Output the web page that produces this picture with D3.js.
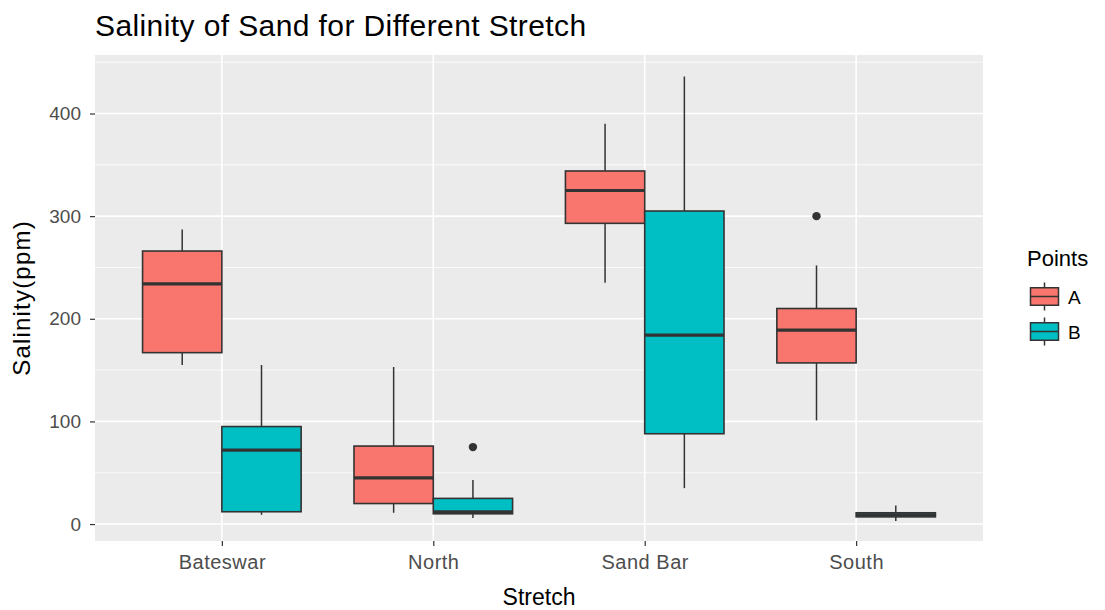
<!DOCTYPE html>
<html>
<head>
<meta charset="utf-8">
<script src="https://cdn.jsdelivr.net/npm/d3@7"></script>
<style>
  html, body { margin: 0; padding: 0; background: #ffffff; }
  svg text { font-family: "Liberation Sans", Arial, sans-serif; }
</style>
</head>
<body>
<svg id="chart" width="1105" height="610"></svg>
<script>
// Salinity summary statistics per stretch and sampling point
const categories = ["Bateswar", "North", "Sand Bar", "South"];
const groups = ["A", "B"];
const groupColors = ["#F8766D", "#00BFC4"];

// Five-number summaries (lower whisker, Q1, median, Q3, upper whisker), in ppm
const lowerA  = [155, 11, 235, 101];
const q1A     = [167, 20, 293, 157];
const medianA = [234, 45, 325, 189];
const q3A     = [266, 76, 344, 210];
const upperA  = [287, 153, 390, 252];

const lowerB  = [9, 6, 35, 3];
const q1B     = [12, 10, 88, 7];
const medianB = [72, 12, 184, 9];
const q3B     = [95, 25, 305, 11];
const upperB  = [155, 43, 436, 18];

// Outlying observations
const outliersA = [{ cat: "South", value: 300 }];
const outliersB = [{ cat: "North", value: 75 }];

const yTicks = [0, 100, 200, 300, 400];
const yMinor = [50, 150, 250, 350, 450];
const yDomain = [-16.5, 457];

const titleText = "Salinity of Sand for Different Stretch";
const xTitle = "Stretch";
const yTitle = "Salinity(ppm)";
const legendTitle = "Points";

// Build per-box records
const series = [
  { group: "A", lower: lowerA, q1: q1A, median: medianA, q3: q3A, upper: upperA, outliers: outliersA },
  { group: "B", lower: lowerB, q1: q1B, median: medianB, q3: q3B, upper: upperB, outliers: outliersB }
];
const boxes = [];
series.forEach(s => categories.forEach((c, i) => boxes.push({
  cat: c, group: s.group, lower: s.lower[i], q1: s.q1[i], median: s.median[i], q3: s.q3[i], upper: s.upper[i]
})));
const points = [];
series.forEach(s => s.outliers.forEach(o => points.push({ cat: o.cat, group: s.group, value: o.value })));

const panel = { left: 95, top: 55, right: 983, bottom: 541 };
const svg = d3.select("#chart");

// Discrete x positions with 0.6 unit expansion on each side
const unit = (panel.right - panel.left) / (categories.length - 1 + 1.2);
const x = d3.scalePoint().domain(categories)
  .range([panel.left + 0.6 * unit, panel.right - 0.6 * unit]);
const xGroup = d3.scaleBand().domain(groups).range([-0.375 * unit, 0.375 * unit]).padding(0);
const color = d3.scaleOrdinal().domain(groups).range(groupColors);

const y = d3.scaleLinear().domain(yDomain).range([panel.bottom, panel.top]);

// Panel background
svg.append("rect")
  .attr("x", panel.left).attr("y", panel.top)
  .attr("width", panel.right - panel.left).attr("height", panel.bottom - panel.top)
  .attr("fill", "#EBEBEB");

// Grid lines
const grid = svg.append("g");
grid.selectAll("line.minor").data(yMinor).join("line")
  .attr("x1", panel.left).attr("x2", panel.right)
  .attr("y1", d => y(d)).attr("y2", d => y(d))
  .attr("stroke", "#ffffff").attr("stroke-width", 0.8);
grid.selectAll("line.majory").data(yTicks).join("line")
  .attr("x1", panel.left).attr("x2", panel.right)
  .attr("y1", d => y(d)).attr("y2", d => y(d))
  .attr("stroke", "#ffffff").attr("stroke-width", 1.6);
grid.selectAll("line.majorx").data(categories).join("line")
  .attr("x1", d => x(d)).attr("x2", d => x(d))
  .attr("y1", panel.top).attr("y2", panel.bottom)
  .attr("stroke", "#ffffff").attr("stroke-width", 1.6);

// Axes
const yAxis = d3.axisLeft(y).tickValues(yTicks).tickSize(5).tickPadding(9);
const gy = svg.append("g").attr("transform", `translate(${panel.left},0)`).call(yAxis);
gy.select(".domain").remove();
gy.selectAll(".tick line").attr("stroke", "#333333").attr("stroke-width", 1.2);
gy.selectAll(".tick text").attr("fill", "#4D4D4D").style("font-size", "19px");

const xAxis = d3.axisBottom(x).tickSize(5).tickPadding(9);
const gx = svg.append("g").attr("transform", `translate(0,${panel.bottom})`).call(xAxis);
gx.select(".domain").remove();
gx.selectAll(".tick line").attr("stroke", "#333333").attr("stroke-width", 1.2);
gx.selectAll(".tick text").attr("fill", "#4D4D4D").style("font-size", "20px").style("letter-spacing", "0.5px");

// Boxplots
const bx = d => x(d.cat) + xGroup(d.group);
const bw = xGroup.bandwidth();
const gBoxes = svg.append("g");
const bg = gBoxes.selectAll("g.box").data(boxes).join("g");
bg.append("line")
  .attr("x1", d => bx(d) + bw / 2).attr("x2", d => bx(d) + bw / 2)
  .attr("y1", d => y(d.upper)).attr("y2", d => y(d.q3))
  .attr("stroke", "#333333").attr("stroke-width", 1.5);
bg.append("line")
  .attr("x1", d => bx(d) + bw / 2).attr("x2", d => bx(d) + bw / 2)
  .attr("y1", d => y(d.q1)).attr("y2", d => y(d.lower))
  .attr("stroke", "#333333").attr("stroke-width", 1.5);
bg.append("rect")
  .attr("x", d => bx(d)).attr("width", bw)
  .attr("y", d => y(d.q3)).attr("height", d => y(d.q1) - y(d.q3))
  .attr("fill", d => color(d.group))
  .attr("stroke", "#333333").attr("stroke-width", 1.6);
bg.append("line")
  .attr("x1", d => bx(d)).attr("x2", d => bx(d) + bw)
  .attr("y1", d => y(d.median)).attr("y2", d => y(d.median))
  .attr("stroke", "#333333").attr("stroke-width", 3.2);

// Outliers
svg.append("g").selectAll("circle").data(points).join("circle")
  .attr("cx", d => x(d.cat) + xGroup(d.group) + bw / 2)
  .attr("cy", d => y(d.value))
  .attr("r", 4.2)
  .attr("fill", "#333333");

// Titles
svg.append("text").attr("x", panel.left).attr("y", 36)
  .style("font-size", "30px").style("letter-spacing", "0.4px")
  .attr("fill", "#000000").text(titleText);
svg.append("text").attr("x", (panel.left + panel.right) / 2).attr("y", 605)
  .attr("text-anchor", "middle").style("font-size", "23px").attr("fill", "#000000").text(xTitle);
svg.append("text")
  .attr("transform", `translate(30,${(panel.top + panel.bottom) / 2}) rotate(-90)`)
  .attr("text-anchor", "middle").style("font-size", "24px").style("letter-spacing", "1.2px")
  .attr("fill", "#000000").text(yTitle);

// Legend
const legend = svg.append("g").attr("transform", "translate(1027,0)");
legend.append("text").attr("x", 0).attr("y", 266)
  .style("font-size", "22px").attr("fill", "#000000").text(legendTitle);
const keySize = 35;
const keyTop = 279;
const keys = legend.selectAll("g.key").data(groups).join("g")
  .attr("transform", (d, i) => `translate(0,${keyTop + i * keySize})`);
keys.append("line")
  .attr("x1", keySize / 2).attr("x2", keySize / 2)
  .attr("y1", keySize * 0.1).attr("y2", keySize * 0.9)
  .attr("stroke", "#333333").attr("stroke-width", 1.5);
keys.append("rect")
  .attr("x", keySize * 0.1).attr("width", keySize * 0.8)
  .attr("y", keySize * 0.25).attr("height", keySize * 0.5)
  .attr("fill", d => color(d)).attr("stroke", "#333333").attr("stroke-width", 1.5);
keys.append("line")
  .attr("x1", keySize * 0.1).attr("x2", keySize * 0.9)
  .attr("y1", keySize / 2).attr("y2", keySize / 2)
  .attr("stroke", "#333333").attr("stroke-width", 1.5);
keys.append("text").attr("x", keySize + 6).attr("y", keySize / 2 + 7)
  .style("font-size", "19px").attr("fill", "#000000").text(d => d);
</script>
</body>
</html>
